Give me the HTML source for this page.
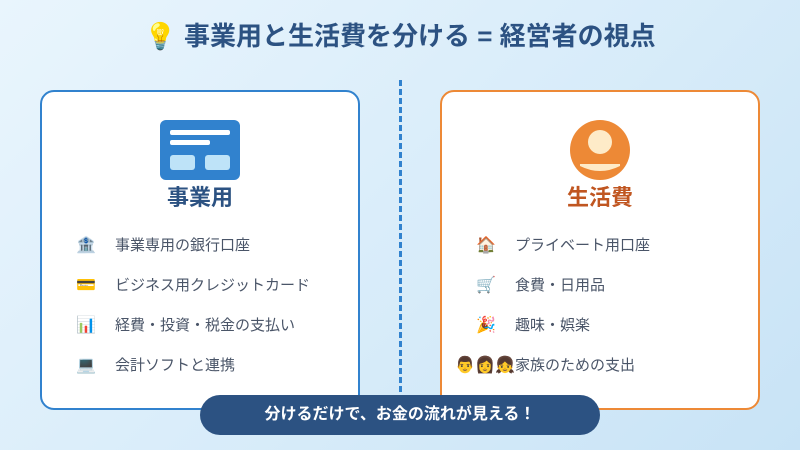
<!DOCTYPE html>
<html><head><meta charset="utf-8"><style>
*{margin:0;padding:0;box-sizing:border-box}
body{width:800px;height:450px;overflow:hidden;background:linear-gradient(135deg,#e9f5fd 0%,#d6ebf9 60%,#c8e3f6 100%);font-family:"Liberation Sans","Noto Sans CJK JP",sans-serif;position:relative}
.t{position:absolute;top:16px;left:0;width:800px;text-align:center;font-size:26px;font-weight:bold;color:#2c5282}
.card{position:absolute;top:90px;width:320px;height:320px;background:#fff;border-radius:14px;border:2px solid #3182ce}
.l{left:40px}.r{left:440px;border-color:#ed8936}
.h{position:absolute;top:88px;width:100%;text-align:center;font-size:22px;font-weight:bold}
.it{position:absolute;left:32px;font-size:15px;color:#4a5568;height:24px;line-height:24px;white-space:nowrap}
.it .e{position:absolute;left:0;width:24px;text-align:center;font-size:16px;color:#3182ce}
.it .x{position:absolute;left:41px}
.dash{position:absolute;left:399px;top:80px;height:312px;border-left:3px dashed #3182ce}
.pill{position:absolute;left:200px;top:395px;width:400px;height:40px;border-radius:20px;background:#2c5282;color:#fff;text-align:center;line-height:40px;font-size:16px;font-weight:bold}
</style></head><body>
<div class="t">💡 事業用と生活費を分ける = 経営者の視点</div>
<div class="dash"></div>
<div class="card l">
<svg style="position:absolute;left:118px;top:28px" width="80" height="60"><rect width="80" height="60" rx="6" fill="#3182ce"/><rect x="10" y="10" width="60" height="5" rx="2" fill="#fff"/><rect x="10" y="20" width="40" height="5" rx="2" fill="#fff"/><rect x="10" y="35" width="25" height="15" rx="3" fill="#bee3f8"/><rect x="45" y="35" width="25" height="15" rx="3" fill="#bee3f8"/></svg>
<div class="h" style="color:#2c5282">事業用</div>
<div class="it" style="top:142px"><span class="e">🏦</span><span class="x">事業専用の銀行口座</span></div>
<div class="it" style="top:182px"><span class="e">💳</span><span class="x">ビジネス用クレジットカード</span></div>
<div class="it" style="top:222px"><span class="e">📊</span><span class="x">経費・投資・税金の支払い</span></div>
<div class="it" style="top:262px"><span class="e">💻</span><span class="x">会計ソフトと連携</span></div>
</div>
<div class="card r">
<svg style="position:absolute;left:128px;top:28px" width="60" height="60"><circle cx="30" cy="30" r="30" fill="#ed8936"/><circle cx="30" cy="22" r="12" fill="#feebc8"/><path d="M10 46 Q30 56 50 46 L50 44 L10 44Z" fill="#feebc8"/></svg>
<div class="h" style="color:#c05621">生活費</div>
<div class="it" style="top:142px"><span class="e" style="color:#dd6b20">🏠</span><span class="x">プライベート用口座</span></div>
<div class="it" style="top:182px"><span class="e" style="color:#dd6b20">🛒</span><span class="x">食費・日用品</span></div>
<div class="it" style="top:222px"><span class="e" style="color:#dd6b20">🎉</span><span class="x">趣味・娯楽</span></div>
<div class="it" style="top:262px"><span class="e" style="left:-22px;width:66px;color:#dd6b20">👨👩👧</span><span class="x">家族のための支出</span></div>
</div>
<div class="pill">分けるだけで、お金の流れが見える！</div>
</body></html>
